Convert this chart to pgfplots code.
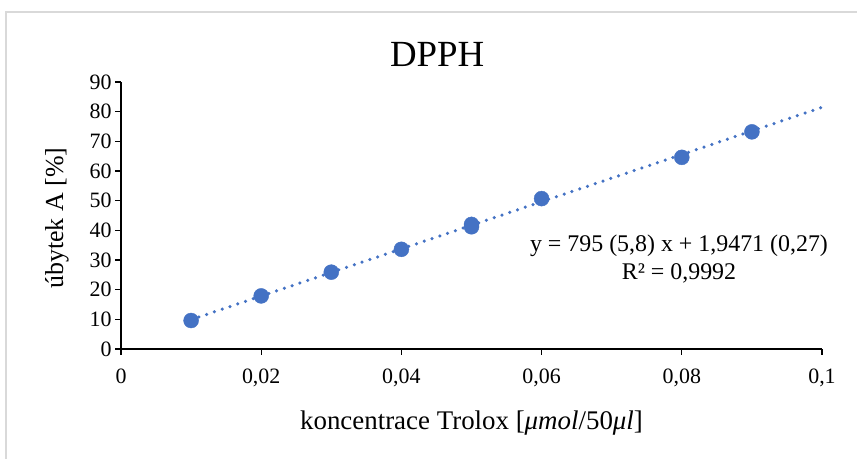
\documentclass[border=0pt]{standalone}
\usepackage{fontspec}
\setmainfont{Liberation Serif}
\usepackage{pgfplots}
\pgfplotsset{compat=1.18}
\definecolor{xblue}{HTML}{4472C4}
\definecolor{frameclr}{HTML}{D9D9D9}
\begin{document}
\begin{tikzpicture}
\path[use as bounding box] (0,0) rectangle (857bp,459bp);
\clip (0,0) rectangle (857bp,459bp);
\fill[white] (0,0) rectangle (857bp,459bp);
\draw[frameclr, line width=1.5bp] (6bp,-20bp) -- (6bp,447bp) -- (900bp,447bp);
\begin{axis}[
  at={(121bp,110bp)}, anchor=south west,
  scale only axis, width=701bp, height=267bp,
  xmin=0, xmax=0.1, ymin=0, ymax=90,
  axis x line*=bottom, axis y line*=left,
  axis line style={line width=1.2bp, -},
  xtick={0,0.02,0.04,0.06,0.08,0.1},
  xticklabels={0,{0,02},{0,04},{0,06},{0,08},{0,1}},
  ytick={0,10,20,30,40,50,60,70,80,90},
  tick align=outside, major tick length=6bp,
  tick style={black, line width=1.2bp},
  /pgf/number format/assume math mode=true,
  tick label style={font=\fontsize{22}{26}\selectfont},
  xticklabel style={yshift=-10bp},
  xlabel={koncentrace Trolox [\textit{μmol}/50\textit{μl}]},
  ylabel={úbytek A [\%]},
  xlabel style={font=\fontsize{27}{30}\selectfont, at={(axis description cs:0.5,0)}, anchor=base, yshift=-80bp},
  ylabel style={font=\fontsize{26}{30}\selectfont, at={(axis description cs:-0.0913,0.49)}, anchor=center, rotate=0},
  title={DPPH},
  title style={font=\fontsize{37}{40}\selectfont, at={(axis description cs:0.451,1)}, anchor=base, yshift=10bp},
  clip=false,
]
\addplot[xblue, line width=3.5bp, line cap=round, dash pattern=on 0bp off 8.2bp, no marks]
  coordinates {(0.01,9.897) (0.1,81.447)};
\addplot[only marks, mark=*, mark size=7.5bp, xblue, mark options={fill=xblue, draw=xblue}]
  coordinates {
  (0.01,9.6) (0.02,17.9) (0.03,25.9) (0.04,33.6) (0.05,41.2) (0.05,42.0)
  (0.06,50.7) (0.08,64.6) (0.09,73.2)
  };
\node[align=center, font=\fontsize{24}{28}\selectfont] at (axis cs:0.0796,30.3)
  {y = 795 (5,8) x + 1,9471 (0,27)\\R² = 0,9992};
\end{axis}
\end{tikzpicture}
\end{document}
